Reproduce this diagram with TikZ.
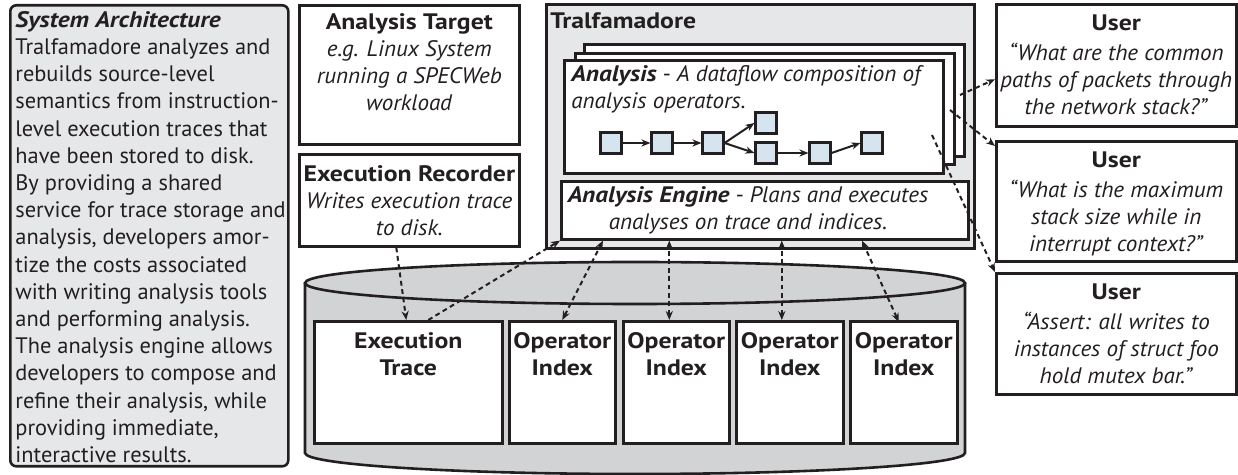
\documentclass[tikz,border=0pt]{standalone}
\usepackage{fontspec}
\setmainfont{PT Sans}[BoldFeatures={FakeStretch=1.15}, ItalicFeatures={FakeStretch=1.03},
  BoldItalicFeatures={FakeStretch=1.13}]
\usetikzlibrary{arrows.meta, positioning, calc}
\definecolor{ink}{HTML}{231F20}
\definecolor{panelgray}{HTML}{E6E7E8}
\definecolor{cylgray}{HTML}{D1D3D4}
\definecolor{opblue}{HTML}{D5E4EF}
\newcommand{\diagfont}{\fontsize{11.2}{13.6}\selectfont}

\tikzset{
  box/.style={draw=ink, line width=1.3pt, fill=white, inner sep=0pt, anchor=north west},
  panel/.style={box, fill=panelgray},
  txt/.style={anchor=north, align=center, inner sep=0pt, font=\diagfont, text=ink},
  op/.style={draw=ink, line width=1.1pt, fill=opblue, minimum size=10.5pt, inner sep=0pt},
  flow/.style={-{Stealth[length=4.5pt,width=3.6pt]}, line width=1pt, draw=ink},
  dlink/.style={line width=1pt, dash pattern=on 2.4pt off 1.8pt, draw=ink,
    -{Stealth[length=4.5pt,width=3.6pt]}},
  dboth/.style={dlink, {Stealth[length=4.5pt,width=3.6pt]}-{Stealth[length=4.5pt,width=3.6pt]}},
}

\begin{document}
\begin{tikzpicture}[x=0.5pt, y=-0.5pt]
\useasboundingbox (0,0) rectangle (1238,475);

% side note
\node[panel, rounded corners=3pt, minimum width=139pt, minimum height=230.5pt] (note) at (9,4) {};
\node[txt, anchor=north west, align=left] (notetxt) at (15,11)
  {\textbf{\textit{System Architecture}}\\
   Tralfamadore analyzes and\\
   rebuilds source-level\\
   semantics from instruction-\\
   level execution traces that\\
   have been stored to disk.\\
   By providing a shared\\
   service for trace storage and\\
   analysis, developers amor-\\
   tize the costs associated\\
   with writing analysis tools\\
   and performing analysis.\\
   The analysis engine allows\\
   developers to compose and\\
   refine their analysis, while\\
   providing immediate,\\
   interactive results.};

% target and recorder
\node[box, minimum width=110pt, minimum height=69.5pt] (tgt) at (298,4) {};
\node[txt] (tgttxt) at ($(tgt.north)+(0,9)$)
  {\textbf{Analysis Target}\\ \textit{e.g. Linux System}\\ \textit{running a SPECWeb}\\ \textit{workload}};
\node[box, minimum width=110pt, minimum height=46pt] (rec) at (298,153) {};
\node[txt] (rectxt) at ($(rec.north)+(0,12)$)
  {\textbf{Execution Recorder}\\ \textit{Writes execution trace}\\ \textit{to disk.}};

% Tralfamadore
\node[panel, minimum width=214pt, minimum height=122pt] (tral) at (545,3) {};
\node[txt, anchor=north west] (traltxt) at (550,12) {\textbf{Tralfamadore}};

% stacked analyses
\node[box, minimum width=190pt, minimum height=56pt] (an3) at (583,43) {};
\node[box, minimum width=189.5pt, minimum height=55.5pt] (an2) at (574,52) {};
\node[box, minimum width=189.5pt, minimum height=56.5pt] (an1) at (563,59) {};
\node[txt, anchor=north west, align=left] (an1txt) at (571,65)
  {\textbf{\textit{Analysis}} - \textit{A dataflow composition of}\\ \textit{analysis operators.}};

% operator graph
\node[op] (f1) at (611,143) {};
\node[op] (f2) at (662,143) {};
\node[op] (f3) at (713,143) {};
\node[op] (f4) at (766,123) {};
\node[op] (f5) at (766,153) {};
\node[op] (f6) at (820,153) {};
\node[op] (f7) at (872,143) {};
\draw[flow] (f1) -- (f2);
\draw[flow] (f2) -- (f3);
\draw[flow] (f3.east) -- (f4.west);
\draw[flow] (f3.east) -- (f5.west);
\draw[flow] (f5) -- (f6);
\draw[flow] (f6.east) -- (f7.west);

% engine
\node[box, minimum width=203.5pt, minimum height=29pt] (eng) at (560,180) {};
\node[txt] (engtxt) at (748,186)
  {\textbf{\textit{Analysis Engine}} - \textit{Plans and executes}\\ \textit{analyses on trace and indices.}};

% users
\node[box, minimum width=120pt, minimum height=61pt] (u1) at (995,3) {};
\node[txt] (u1txt) at ($(u1.north)+(0,11)$)
  {\textbf{User}\\[1.5pt] \textit{``What are the common}\\ \textit{paths of packets through}\\ \textit{the network stack?''}};
\node[box, minimum width=120pt, minimum height=60pt] (u2) at (995,140) {};
\node[txt] (u2txt) at ($(u2.north)+(0,11)$)
  {\textbf{User}\\[1.5pt] \textit{``What is the maximum}\\ \textit{stack size while in}\\ \textit{interrupt context?''}};
\node[box, minimum width=120pt, minimum height=60.5pt] (u3) at (995,272) {};
\node[txt] (u3txt) at ($(u3.north)+(0,11)$)
  {\textbf{User}\\[1.5pt] \textit{``Assert: all writes to}\\ \textit{instances of struct foo}\\ \textit{hold mutex bar.''}};

% storage cylinder
\filldraw[fill=cylgray, draw=ink, line width=1.3pt] (305,283) -- (305,453)
  arc[start angle=180, end angle=0, x radius=330, y radius=21] -- (965,283);
\filldraw[fill=cylgray, draw=ink, line width=1.3pt] (635,283) ellipse [x radius=330, y radius=21];

\node[box, minimum width=94pt, minimum height=61pt] (trace) at (313,320) {};
\node[txt] (tracetxt) at ($(trace.north)+(0,12)$) {\textbf{Execution}\\ \textbf{Trace}};
\node[box, minimum width=53pt, minimum height=61pt] (idx1) at (508,320) {};
\node[box, minimum width=53pt, minimum height=61pt] (idx2) at (622,320) {};
\node[box, minimum width=53.5pt, minimum height=61pt] (idx3) at (735,320) {};
\node[box, minimum width=53.5pt, minimum height=61pt] (idx4) at (849,320) {};
\foreach \i in {1,...,4}
  \node[txt] (idx\i txt) at ($(idx\i.north)+(0,12)$) {\textbf{Operator}\\ \textbf{Index}};

% dashed links
\draw[dlink] ($(rec.south)+(-13,0)$) -- ($(trace.north)+(-2,0)$);
\draw[dlink] ($(trace.north)+(20,0)$) -- (eng.south west);
\draw[dboth] (idx1.north) -- ($(eng.south west)+(43,0)$);
\draw[dboth] ($(idx2.north)+(-7,0)$) coordinate (a2) -- (a2 |- eng.south);
\draw[dboth] ($(idx3.north)+(-8,0)$) coordinate (a3) -- (a3 |- eng.south);
\draw[dboth] ($(idx4.north)+(-5,2)$) -- ($(eng.south west)+(302,0)$);

\coordinate (s1) at (960,95);
\coordinate (s2) at (950,110);
\coordinate (s3) at (932,135);
\draw[dlink] (s1) -- ($(u1.west)+(0,14)$);
\draw[dlink] (s2) -- ($(u2.north west)+(0,6)$);
\draw[dlink] (s3) -- (u3.north west);

\end{tikzpicture}
\end{document}
